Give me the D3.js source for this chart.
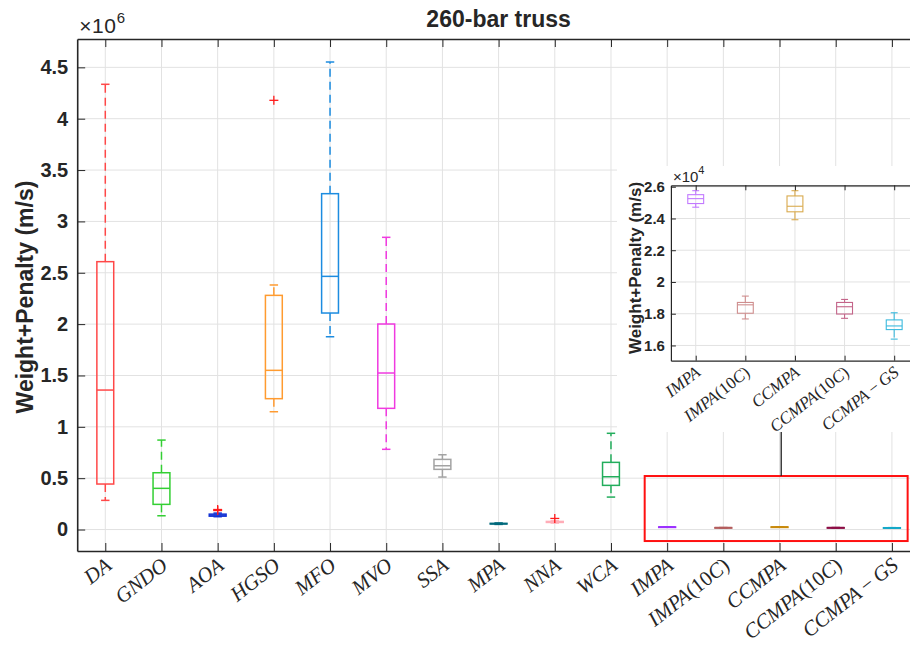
<!DOCTYPE html>
<html>
<head>
<meta charset="utf-8">
<script src="https://cdn.jsdelivr.net/npm/d3@7"></script>
<style>
  body { margin: 0; background: #fff; }
  svg { display: block; }
  text { fill: #262626; }
</style>
</head>
<body>
<svg id="chart" width="910" height="656"></svg>
<script>
// ---- data: objective values (Weight+Penalty) per algorithm, 260-bar truss ----
const categories = ["DA", "GNDO", "AOA", "HGSO", "MFO", "MVO", "SSA", "MPA", "NNA", "WCA",
                    "IMPA", "IMPA(10C)", "CCMPA", "CCMPA(10C)", "CCMPA−GS"];
const whiskerLow  = [284000, 134000, 125000, 1147000, 1877000, 781000, 511000, 50000, 64000, 316000,
                     24710, 17670, 23920, 17710, 16400];
const quartile1   = [443000, 245000, 130000, 1274000, 2108000, 1180000, 586000, 54000, 69000, 430000,
                     24940, 18030, 24420, 17980, 17000];
const medians     = [1358000, 401000, 140000, 1550000, 2465000, 1524000, 621000, 57000, 74000, 514000,
                     25250, 18560, 24770, 18440, 17230];
const quartile3   = [2608000, 553000, 150000, 2280000, 3270000, 2001000, 683000, 60000, 79000, 654000,
                     25500, 18710, 25420, 18710, 17610];
const whiskerHigh = [4335000, 871000, 160000, 2381000, 4552000, 2845000, 728000, 64000, 84000, 937000,
                     25750, 19110, 25750, 18900, 18060];
const outliers    = [[], [], [185000, 195000], [4179000], [], [], [], [], [108000], [],
                     [], [], [], [], []];
const boxColors   = ["#ff4848", "#33cf33", "#1433d4", "#ff9b30", "#1c8ce0", "#f03ae0", "#a3a3a3",
                     "#00697c", "#ffadb8", "#22ad5c", "#9b30ff", "#b35c5c", "#c88a0c", "#8c0c44", "#14a8c8"];
const insetColors = ["#c27aff", "#cf8e8e", "#d9aa4e", "#c4658a", "#3cbade"];
const yTicks      = [0, 500000, 1000000, 1500000, 2000000, 2500000, 3000000, 3500000, 4000000, 4500000];
const insetYTicks = [16000, 18000, 20000, 22000, 24000, 26000];
const insetFirst  = 10; // the five CCMPA-family runs repeat in the zoomed panel

// ---- layout ----
const svg = d3.select("#chart");
const M = { left: 77.2, right: 920, top: 39, bottom: 551 };
const x = d3.scaleLinear().domain([0.5, categories.length + 0.5]).range([M.left, M.right]);
const y = d3.scaleLinear().domain([-209000, 4776000]).range([M.bottom, M.top]);
const pos = d3.range(1, categories.length + 1);
const AX = "#262626", GRID = "#e2e2e2";
const SANS = "'Liberation Sans', Arial, sans-serif";
const SERIF = "'Liberation Serif', 'Times New Roman', serif";

// latex-like label: letters italic, digits/brackets/operators upright
function mathLabel(sel, label) {
  const parts = label.replace("−", "\u2009−\u2009").match(/[A-Za-z]+|[^A-Za-z]+/g);
  parts.forEach(p => {
    sel.append("tspan").text(p)
      .attr("font-style", /[A-Za-z]/.test(p) ? "italic" : "normal");
  });
}

function drawBox(g, xs, ys, i, xc, color, width, lw, capW) {
  const half = width / 2;
  const bx = xs(xc - half), bw = xs(xc + half) - xs(xc - half);
  const cx = xs(xc);
  const cap = (xs(xc + capW / 2) - xs(xc - capW / 2)) / 2;
  const b = g.append("g").attr("stroke", color).attr("fill", "none").attr("stroke-width", lw);
  // whiskers (dashed)
  b.append("line").attr("x1", cx).attr("x2", cx).attr("y1", ys(quartile3[i])).attr("y2", ys(whiskerHigh[i]))
    .attr("stroke-dasharray", "8,5");
  b.append("line").attr("x1", cx).attr("x2", cx).attr("y1", ys(quartile1[i])).attr("y2", ys(whiskerLow[i]))
    .attr("stroke-dasharray", "8,5");
  // caps
  [whiskerHigh[i], whiskerLow[i]].forEach(v => {
    b.append("line").attr("x1", cx - cap).attr("x2", cx + cap).attr("y1", ys(v)).attr("y2", ys(v));
  });
  // box and median
  b.append("rect").attr("x", bx).attr("width", bw)
    .attr("y", ys(quartile3[i])).attr("height", Math.max(ys(quartile1[i]) - ys(quartile3[i]), 0.5));
  b.append("line").attr("x1", bx).attr("x2", bx + bw).attr("y1", ys(medians[i])).attr("y2", ys(medians[i]));
}

// ---- main grid ----
const grid = svg.append("g").attr("stroke", GRID).attr("stroke-width", 1);
yTicks.forEach(v => grid.append("line").attr("x1", M.left).attr("x2", M.right).attr("y1", y(v)).attr("y2", y(v)));
pos.forEach(p => grid.append("line").attr("x1", x(p)).attr("x2", x(p)).attr("y1", M.top).attr("y2", M.bottom));

// ---- main boxes ----
const boxes = svg.append("g");
pos.forEach((p, i) => drawBox(boxes, x, y, i, p, boxColors[i], 0.3, 1.5, 0.15));

// outliers
const outG = svg.append("g").attr("stroke", "#ff1a1a").attr("stroke-width", 1.3);
pos.forEach((p, i) => outliers[i].forEach(v => {
  const cx = x(p), cy = y(v), r = 4.5;
  outG.append("line").attr("x1", cx - r).attr("x2", cx + r).attr("y1", cy).attr("y2", cy);
  outG.append("line").attr("x1", cx).attr("x2", cx).attr("y1", cy - r).attr("y2", cy + r);
}));

// ---- main axes ----
function styleAxis(g, lw) {
  g.select(".domain").attr("stroke", AX).attr("stroke-width", lw);
  g.selectAll(".tick line").attr("stroke", AX).attr("stroke-width", 1);
}
const yAxis = svg.append("g").attr("transform", `translate(${M.left},0)`)
  .call(d3.axisLeft(y).tickValues(yTicks).tickSizeInner(-8).tickSizeOuter(0).tickPadding(9)
    .tickFormat(d => String(+(d / 1e6).toFixed(1))));
styleAxis(yAxis, 1.6);
yAxis.selectAll(".tick text").attr("font-family", SANS)
  .attr("font-size", 20).attr("font-weight", "bold").attr("fill", AX);

const topAxis = svg.append("g").attr("transform", `translate(0,${M.top})`)
  .call(d3.axisTop(x).tickValues(pos).tickSizeInner(-8).tickSizeOuter(0).tickFormat(""));
styleAxis(topAxis, 1.6);
const botAxis = svg.append("g").attr("transform", `translate(0,${M.bottom})`)
  .call(d3.axisBottom(x).tickValues(pos).tickSizeInner(-8).tickSizeOuter(0).tickFormat(""));
styleAxis(botAxis, 1.6);

// category labels
pos.forEach((p, i) => {
  const t = svg.append("text")
    .attr("transform", `translate(${x(p) + 3},${M.bottom + 11}) rotate(-38)`)
    .attr("text-anchor", "end").attr("dy", "0.35em")
    .attr("font-family", SERIF).attr("font-size", 21);
  mathLabel(t, categories[i]);
});

// exponent
const ex = svg.append("text").attr("x", M.left + 2).attr("y", 33)
  .attr("font-family", SANS).attr("font-size", 21).attr("letter-spacing", 0.6);
ex.append("tspan").text("×10");
ex.append("tspan").text("6").attr("font-size", 15).attr("dy", -10);

// title and y label
svg.append("text").attr("x", (M.left + M.right) / 2).attr("y", 27).attr("text-anchor", "middle")
  .attr("font-family", SANS).attr("font-size", 23).attr("font-weight", "bold")
  .attr("fill", "#111").text("260-bar truss");
svg.append("text").attr("transform", `translate(33,${(M.top + M.bottom) / 2 + 2}) rotate(-90)`)
  .attr("text-anchor", "middle")
  .attr("font-family", SANS).attr("font-size", 23).attr("font-weight", "bold")
  .text("Weight+Penalty (m/s)");

// ---- zoom callout ----
const zoomX0 = 10.6, zoomX1 = 15.28, zoomY0 = -112000, zoomY1 = 521000, callX = 13.03;
svg.append("rect").attr("x", x(zoomX0)).attr("y", y(zoomY1))
  .attr("width", x(zoomX1) - x(zoomX0)).attr("height", y(zoomY0) - y(zoomY1))
  .attr("fill", "none").attr("stroke", "#ff1010").attr("stroke-width", 2);

// ---- inset panel ----
const P = { left: 670.9, right: 919, top: 185.3, bottom: 360.7 };
const panelBg = { x: 617, y: 166, w: 300, h: 266 };
svg.append("line").attr("x1", x(callX)).attr("x2", x(callX))
  .attr("y1", y(zoomY1)).attr("y2", panelBg.y + panelBg.h)
  .attr("stroke", "#222").attr("stroke-width", 1.3);
svg.append("rect").attr("x", panelBg.x).attr("y", panelBg.y).attr("width", panelBg.w).attr("height", panelBg.h)
  .attr("fill", "#fff");

const inset = svg.append("g");
const xi = d3.scaleLinear().domain([0.5, 5.5]).range([P.left, P.right]);
const yi = d3.scaleLinear().domain([15040, 26090]).range([P.bottom, P.top]);
const ipos = d3.range(1, 6);

const igrid = inset.append("g").attr("stroke", GRID).attr("stroke-width", 1);
insetYTicks.forEach(v => igrid.append("line").attr("x1", P.left).attr("x2", P.right).attr("y1", yi(v)).attr("y2", yi(v)));
ipos.forEach(p => igrid.append("line").attr("x1", xi(p)).attr("x2", xi(p)).attr("y1", P.top).attr("y2", P.bottom));

ipos.forEach((p, k) => drawBox(inset, xi, yi, insetFirst + k, p, insetColors[k], 0.32, 1.1, 0.14));

const iyAxis = inset.append("g").attr("transform", `translate(${P.left},0)`)
  .call(d3.axisLeft(yi).tickValues(insetYTicks).tickSizeInner(-5).tickSizeOuter(0).tickPadding(6)
    .tickFormat(d => String(+(d / 1e4).toFixed(1))));
styleAxis(iyAxis, 1.2);
iyAxis.selectAll(".tick text").attr("font-family", SANS)
  .attr("font-size", 15).attr("font-weight", "bold").attr("fill", AX);
const itop = inset.append("g").attr("transform", `translate(0,${P.top})`)
  .call(d3.axisTop(xi).tickValues(ipos).tickSizeInner(-5).tickSizeOuter(0).tickFormat(""));
styleAxis(itop, 1.2);
const ibot = inset.append("g").attr("transform", `translate(0,${P.bottom})`)
  .call(d3.axisBottom(xi).tickValues(ipos).tickSizeInner(-5).tickSizeOuter(0).tickFormat(""));
styleAxis(ibot, 1.2);

ipos.forEach((p, k) => {
  const t = inset.append("text")
    .attr("transform", `translate(${xi(p) + 2},${P.bottom + 9}) rotate(-38)`)
    .attr("text-anchor", "end").attr("dy", "0.35em")
    .attr("font-family", SERIF).attr("font-size", 17);
  mathLabel(t, categories[insetFirst + k]);
});

const iex = inset.append("text").attr("x", P.left + 2).attr("y", 182)
  .attr("font-family", SANS).attr("font-size", 15);
iex.append("tspan").text("×10");
iex.append("tspan").text("4").attr("font-size", 11).attr("dy", -8);

inset.append("text").attr("transform", `translate(641,${(P.top + P.bottom) / 2 - 5}) rotate(-90)`)
  .attr("text-anchor", "middle")
  .attr("font-family", SANS).attr("font-size", 17).attr("font-weight", "bold")
  .text("Weight+Penalty (m/s)");
</script>
</body>
</html>
